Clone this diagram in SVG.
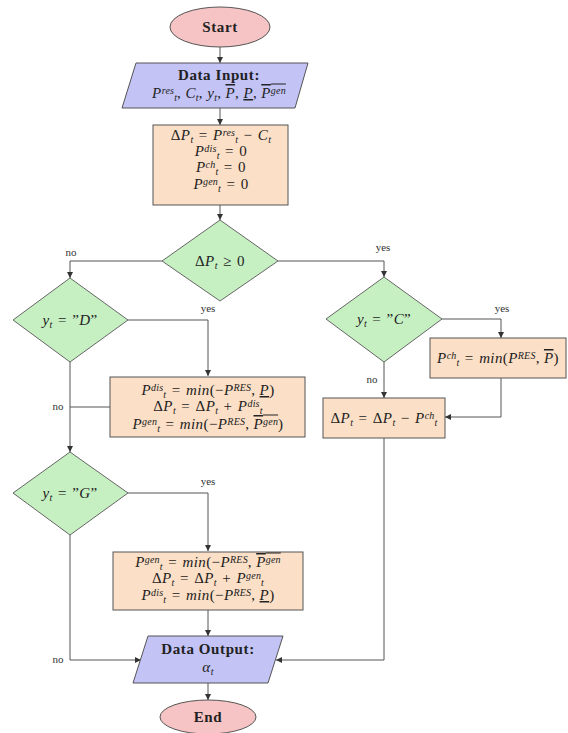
<svg xmlns="http://www.w3.org/2000/svg" width="568" height="733" viewBox="0 0 568 733">
<style>
.term{fill:#f6c4c4;stroke:#555;stroke-width:1}
.io{fill:#c3c3f6;stroke:#555;stroke-width:1}
.proc{fill:#fbdfc6;stroke:#555;stroke-width:1}
.dec{fill:#c6f0c2;stroke:#666;stroke-width:1}
.m{font-family:"Liberation Serif",serif;font-size:15px;letter-spacing:0.4px;fill:#222;text-anchor:middle}
.b{font-weight:bold;font-size:15px;letter-spacing:0.6px}
.i{font-style:italic}
.s{font-style:italic;font-size:10px;letter-spacing:0.2px}
.o{text-decoration:overline}
.u{text-decoration:underline}
.lbl{font-family:"Liberation Serif",serif;font-size:11px;fill:#333;text-anchor:middle}
.c{fill:none;stroke:#555;stroke-width:1}
</style>
<defs>
<marker id="ah" markerWidth="6" markerHeight="6" refX="6" refY="3" orient="auto" markerUnits="userSpaceOnUse">
<path d="M0,0 L6,3 L0,6 z" fill="#333"/>
</marker>
</defs>
<g id="connectors">
<path class="c" d="M220,47 V63" marker-end="url(#ah)"/>
<path class="c" d="M220,108 V125" marker-end="url(#ah)"/>
<path class="c" d="M220,205 V220" marker-end="url(#ah)"/>
<path class="c" d="M162,261 H70 V278" marker-end="url(#ah)"/>
<path class="c" d="M278,261 H384 V277" marker-end="url(#ah)"/>
<path class="c" d="M128,320 H208 V376" marker-end="url(#ah)"/>
<path class="c" d="M70,362 V452" marker-end="url(#ah)"/>
<path class="c" d="M70,407 H110"/>
<path class="c" d="M128,493 H208 V551" marker-end="url(#ah)"/>
<path class="c" d="M70,535 V660 H141" marker-end="url(#ah)"/>
<path class="c" d="M208,610 V636" marker-end="url(#ah)"/>
<path class="c" d="M208,683 V700" marker-end="url(#ah)"/>
<path class="c" d="M442,319 H501 V338" marker-end="url(#ah)"/>
<path class="c" d="M384,362 V398" marker-end="url(#ah)"/>
<path class="c" d="M501,378 V417 H445" marker-end="url(#ah)"/>
<path class="c" d="M384,438 V660 H276" marker-end="url(#ah)"/>
<text class="lbl" x="71" y="256">no</text>
<text class="lbl" x="383" y="251">yes</text>
<text class="lbl" x="208" y="312">yes</text>
<text class="lbl" x="502" y="312">yes</text>
<text class="lbl" x="372" y="383">no</text>
<text class="lbl" x="58" y="410">no</text>
<text class="lbl" x="208" y="485">yes</text>
<text class="lbl" x="58" y="663">no</text>
</g>
<g id="start">
<ellipse class="term" cx="220" cy="27" rx="50" ry="20"/>
<text class="m b" x="220" y="32">Start</text>
</g>
<g id="input">
<polygon class="io" points="136,63 308,63 295,108 122,108"/>
<text class="m b" x="219" y="80">Data Input:</text>
<text class="m" x="219" y="98"><tspan class="i">P</tspan><tspan class="s" dy="-4.5">res</tspan><tspan class="s" dy="7">t</tspan><tspan dy="-2.5">, </tspan><tspan class="i">C</tspan><tspan class="s" dy="2.5">t</tspan><tspan dy="-2.5">, </tspan><tspan class="i">y</tspan><tspan class="s" dy="2.5">t</tspan><tspan dy="-2.5">, </tspan><tspan class="i o">P</tspan><tspan>, </tspan><tspan class="i u">P</tspan><tspan>, </tspan><tspan class="i o">P</tspan><tspan class="s o" dy="-4.5">gen</tspan></text>
</g>
<g id="init">
<rect class="proc" x="153" y="125" width="135" height="80"/>
<text class="m" x="221" y="140">Δ<tspan class="i">P</tspan><tspan class="s" dy="2.5">t</tspan><tspan dy="-2.5">&#8196;=&#8196;</tspan><tspan class="i">P</tspan><tspan class="s" dy="-4.5">res</tspan><tspan class="s" dy="7">t</tspan><tspan dy="-2.5">&#8196;−&#8196;</tspan><tspan class="i">C</tspan><tspan class="s" dy="2.5">t</tspan></text>
<text class="m" x="221" y="156"><tspan class="i">P</tspan><tspan class="s" dy="-4.5">dis</tspan><tspan class="s" dy="7">t</tspan><tspan dy="-2.5">&#8196;=&#8196;0</tspan></text>
<text class="m" x="221" y="172"><tspan class="i">P</tspan><tspan class="s" dy="-4.5">ch</tspan><tspan class="s" dy="7">t</tspan><tspan dy="-2.5">&#8196;=&#8196;0</tspan></text>
<text class="m" x="221" y="189"><tspan class="i">P</tspan><tspan class="s" dy="-4.5">gen</tspan><tspan class="s" dy="7">t</tspan><tspan dy="-2.5">&#8196;=&#8196;0</tspan></text>
</g>
<g id="dec1">
<polygon class="dec" points="220,220 278,261 220,301 162,261"/>
<text class="m" x="220" y="266">Δ<tspan class="i">P</tspan><tspan class="s" dy="2.5">t</tspan><tspan dy="-2.5">&#8196;≥&#8196;0</tspan></text>
</g>
<g id="decD">
<polygon class="dec" points="70,278 128,320 70,362 13,320"/>
<text class="m" x="70" y="325"><tspan class="i">y</tspan><tspan class="s" dy="2.5">t</tspan><tspan dy="-2.5">&#8196;=&#8196;”</tspan><tspan class="i">D</tspan><tspan>”</tspan></text>
</g>
<g id="decC">
<polygon class="dec" points="384,277 442,319 384,362 326,319"/>
<text class="m" x="384" y="324"><tspan class="i">y</tspan><tspan class="s" dy="2.5">t</tspan><tspan dy="-2.5">&#8196;=&#8196;”</tspan><tspan class="i">C</tspan><tspan>”</tspan></text>
</g>
<g id="decG">
<polygon class="dec" points="70,452 128,493 70,535 13,493"/>
<text class="m" x="70" y="498"><tspan class="i">y</tspan><tspan class="s" dy="2.5">t</tspan><tspan dy="-2.5">&#8196;=&#8196;”</tspan><tspan class="i">G</tspan><tspan>”</tspan></text>
</g>
<g id="discharge">
<rect class="proc" x="110" y="377" width="195" height="60"/>
<text class="m" x="208" y="395"><tspan class="i">P</tspan><tspan class="s" dy="-4.5">dis</tspan><tspan class="s" dy="7">t</tspan><tspan dy="-2.5">&#8196;=&#8196;</tspan><tspan class="i">min</tspan><tspan>(−</tspan><tspan class="i">P</tspan><tspan class="s" dy="-4.5">RES</tspan><tspan dy="4.5">, </tspan><tspan class="i u">P</tspan><tspan>)</tspan></text>
<text class="m" x="208" y="411">Δ<tspan class="i">P</tspan><tspan class="s" dy="2.5">t</tspan><tspan dy="-2.5">&#8196;=&#8196;Δ</tspan><tspan class="i">P</tspan><tspan class="s" dy="2.5">t</tspan><tspan dy="-2.5">&#8196;+&#8196;</tspan><tspan class="i">P</tspan><tspan class="s" dy="-4.5">dis</tspan><tspan class="s" dy="7">t</tspan></text>
<text class="m" x="208" y="429"><tspan class="i">P</tspan><tspan class="s" dy="-4.5">gen</tspan><tspan class="s" dy="7">t</tspan><tspan dy="-2.5">&#8196;=&#8196;</tspan><tspan class="i">min</tspan><tspan>(−</tspan><tspan class="i">P</tspan><tspan class="s" dy="-4.5">RES</tspan><tspan dy="4.5">, </tspan><tspan class="i o">P</tspan><tspan class="s o" dy="-4.5">gen</tspan><tspan dy="4.5">)</tspan></text>
</g>
<g id="charge">
<rect class="proc" x="430" y="338" width="136" height="40"/>
<text class="m" x="498" y="363"><tspan class="i">P</tspan><tspan class="s" dy="-4.5">ch</tspan><tspan class="s" dy="7">t</tspan><tspan dy="-2.5">&#8196;=&#8196;</tspan><tspan class="i">min</tspan><tspan>(</tspan><tspan class="i">P</tspan><tspan class="s" dy="-4.5">RES</tspan><tspan dy="4.5">, </tspan><tspan class="i o">P</tspan><tspan>)</tspan></text>
</g>
<g id="update">
<rect class="proc" x="323" y="398" width="122" height="40"/>
<text class="m" x="384" y="423">Δ<tspan class="i">P</tspan><tspan class="s" dy="2.5">t</tspan><tspan dy="-2.5">&#8196;=&#8196;Δ</tspan><tspan class="i">P</tspan><tspan class="s" dy="2.5">t</tspan><tspan dy="-2.5">&#8196;−&#8196;</tspan><tspan class="i">P</tspan><tspan class="s" dy="-4.5">ch</tspan><tspan class="s" dy="7">t</tspan></text>
</g>
<g id="generate">
<rect class="proc" x="113" y="552" width="190" height="58"/>
<text class="m" x="208" y="567"><tspan class="i">P</tspan><tspan class="s" dy="-4.5">gen</tspan><tspan class="s" dy="7">t</tspan><tspan dy="-2.5">&#8196;=&#8196;</tspan><tspan class="i">min</tspan><tspan>(−</tspan><tspan class="i">P</tspan><tspan class="s" dy="-4.5">RES</tspan><tspan dy="4.5">, </tspan><tspan class="i o">P</tspan><tspan class="s o" dy="-4.5">gen</tspan></text>
<text class="m" x="208" y="583">Δ<tspan class="i">P</tspan><tspan class="s" dy="2.5">t</tspan><tspan dy="-2.5">&#8196;=&#8196;Δ</tspan><tspan class="i">P</tspan><tspan class="s" dy="2.5">t</tspan><tspan dy="-2.5">&#8196;+&#8196;</tspan><tspan class="i">P</tspan><tspan class="s" dy="-4.5">gen</tspan><tspan class="s" dy="7">t</tspan></text>
<text class="m" x="208" y="600"><tspan class="i">P</tspan><tspan class="s" dy="-4.5">dis</tspan><tspan class="s" dy="7">t</tspan><tspan dy="-2.5">&#8196;=&#8196;</tspan><tspan class="i">min</tspan><tspan>(−</tspan><tspan class="i">P</tspan><tspan class="s" dy="-4.5">RES</tspan><tspan dy="4.5">, </tspan><tspan class="i u">P</tspan><tspan>)</tspan></text>
</g>
<g id="output">
<polygon class="io" points="148,636 283,636 268,683 133,683"/>
<text class="m b" x="208" y="654">Data Output:</text>
<text class="m" x="208" y="672"><tspan class="i">α</tspan><tspan class="s" dy="2.5">t</tspan></text>
</g>
<g id="end">
<ellipse class="term" cx="208" cy="717" rx="48" ry="17"/>
<text class="m b" x="208" y="722">End</text>
</g>
</svg>
